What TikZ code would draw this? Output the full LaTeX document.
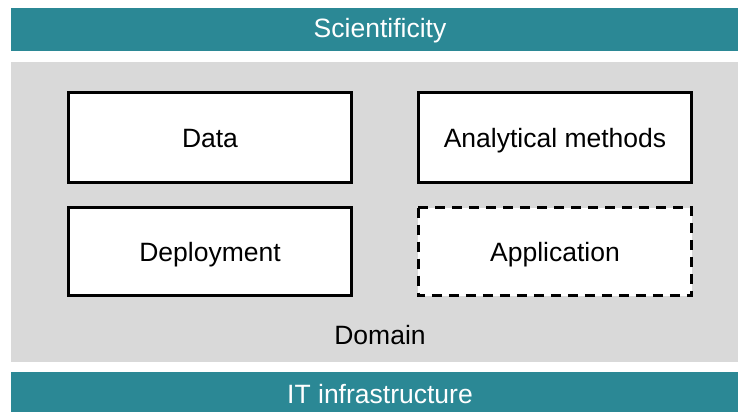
\documentclass[tikz,border=0pt]{standalone}
\usepackage{fontspec}
\setmainfont{Liberation Sans}
\definecolor{teal1}{HTML}{2B8895}
\definecolor{grey1}{HTML}{D9D9D9}
\begin{document}
\begin{tikzpicture}[x=1pt,y=-1pt,
  lbl/.style={anchor=base,inner sep=0pt,font=\fontsize{26.5}{30}\selectfont},
  wlbl/.style={lbl,text=white},
  box/.style={draw=black,fill=white,line width=3pt},
  dbox/.style={box,dash pattern=on 10pt off 7pt}]
\useasboundingbox (0,0) rectangle (738,412);
\fill[fill=teal1] (11,8) rectangle (738,50.7);
\node[wlbl] (sci) at (380,37.7) {Scientificity};
\fill[fill=grey1] (11,62) rectangle (738,361.7);
\node[lbl] (dom) at (380,344.3) {Domain};
\fill[fill=teal1] (11,371.7) rectangle (738,412);
\node[wlbl] (it) at (380,403) {IT infrastructure};
\draw[box] (68.2,92.5) rectangle (351.8,182.5);
\node[lbl] (data) at (210,147.3) {Data};
\draw[box] (418.2,92.5) rectangle (691.8,182.5);
\node[lbl] (anal) at (555,147.3) {Analytical methods};
\draw[box] (68.2,207.5) rectangle (351.8,295.8);
\node[lbl] (dep) at (210,261.3) {Deployment};
\draw[dbox] (418.2,207.5) rectangle (691.8,295.8);
\node[lbl] (app) at (555,261.3) {Application};
\end{tikzpicture}
\end{document}
